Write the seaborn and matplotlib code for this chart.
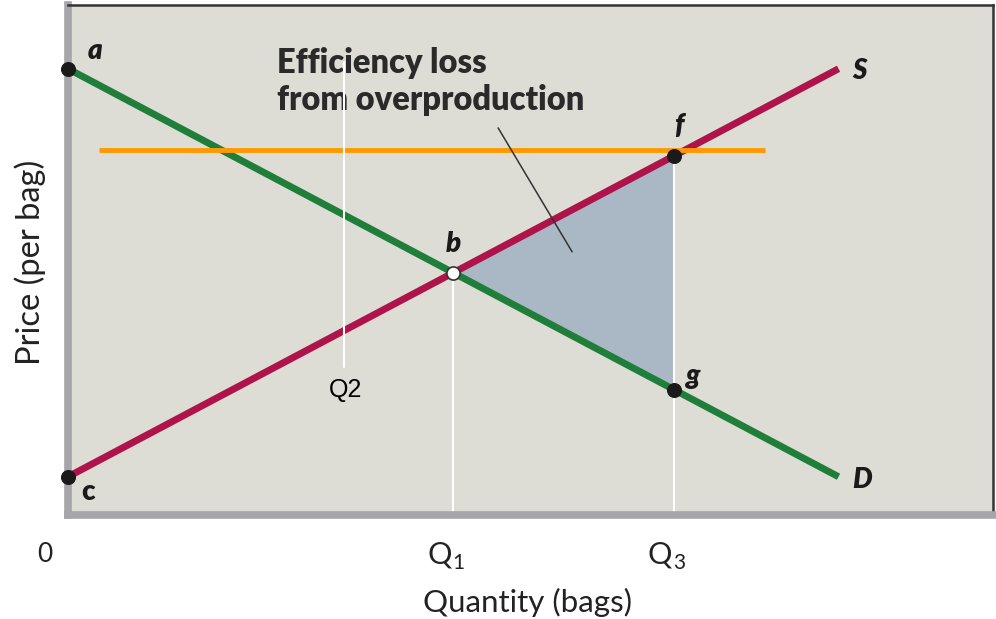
import numpy as np
import pandas as pd
import matplotlib
matplotlib.use("Agg")
import matplotlib.pyplot as plt
import seaborn as sns

# --- datos (unidades del gráfico: 0-100 en ambos ejes) ---
q_ends = [0.0, 83.3]
demand = [87.5, 7.5]
supply = [7.5, 87.5]
q1, p_b = 41.67, 47.5
q3, p_f, p_g = 65.5, 70.4, 24.6
q2 = 29.8
q2_span = [29.0, 88.8]
price_line = 71.6
price_span = [3.3, 75.4]
point_names = ["a", "b", "c", "f", "g"]
point_q = [0.0, q1, 0.0, q3, q3]
point_p = [87.5, p_b, 7.5, p_f, p_g]
tick_pos = [q1, q3]
tick_labels = ["Q", "Q"]
tick_subs = ["1", "3"]

BG = "#dddcd5"
GREEN = "#1f7f3a"
RED = "#ae1449"
ORANGE = "#ff9900"
SHADE = "#a9b8c4"

sns.set_theme(style="white")
plt.rcParams["font.family"] = ["Lato", "DejaVu Sans"]

fig = plt.figure(figsize=(9.96, 6.19), dpi=100)
ax = fig.add_axes([68 / 996, 1 - 515 / 619, (993 - 68) / 996, (515 - 5) / 619])
ax.set_facecolor(BG)

curves = pd.DataFrame({
    "q": q_ends + q_ends,
    "p": demand + supply,
    "curve": ["D", "D", "S", "S"],
})

# triángulo de pérdida de eficiencia
ax.fill([q1, q3, q3], [p_b, p_f, p_g], color=SHADE, zorder=1, lw=0)

# líneas guía blancas
ax.plot([q1, q1], [0, p_b], color="white", lw=1.5, zorder=2)
ax.plot([q3, q3], [0, p_f], color="white", lw=1.5, zorder=2)

sns.lineplot(data=curves, x="q", y="p", hue="curve", palette={"D": GREEN, "S": RED},
             lw=5, legend=False, ax=ax, zorder=3, solid_capstyle="butt")

ax.plot(price_span, [price_line, price_line], color=ORANGE, lw=3.5, zorder=4,
        solid_capstyle="butt")

pts = pd.DataFrame({"q": point_q, "p": point_p, "name": point_names})
sns.scatterplot(data=pts[pts["name"] != "b"], x="q", y="p", color="#1a1a1a", s=100,
                edgecolor="#1a1a1a", ax=ax, zorder=5, clip_on=False)
sns.scatterplot(data=pts[pts["name"] == "b"], x="q", y="p", color="white", s=90,
                edgecolor="#333333", linewidth=1.2, ax=ax, zorder=5)

# etiquetas de puntos
lab = dict(fontsize=20, fontweight="heavy", color="#1a1a1a", ha="center", va="center", zorder=6)
ax.text(2.9, 91.0, "a", style="italic", **lab)
ax.text(41.7, 53.2, "b", style="italic", **lab)
ax.text(2.2, 4.5, "c", **lab)
ax.text(66.0, 76.3, "f", style="italic", **lab)
ax.text(67.6, 27.2, "g", style="italic", **lab)
ax.text(85.6, 87.0, "S", style="italic", **lab)
ax.text(85.8, 6.9, "D", style="italic", **lab)

ax.text(22.6, 85.0, "Efficiency loss\nfrom overproduction", fontsize=23.5, fontweight="heavy",
        color="#2a2a2a", ha="left", va="center", linespacing=1.2, zorder=6)
ax.plot([46.5, 54.5], [75.9, 51.6], color="#333333", lw=1.1, zorder=6)

# línea Q2
ax.plot([q2, q2], q2_span, color="white", lw=1.5, zorder=7)
ax.text(30.0, 24.5, "Q2", fontsize=18, family="Liberation Sans", color="black",
        ha="center", va="center", zorder=7)

ax.set_xlim(0, 100)
ax.set_ylim(0, 100)
ax.set_xticks([])
ax.set_yticks([])
ax.set_xlabel("")
ax.set_ylabel("")

for side in ["left", "bottom"]:
    ax.spines[side].set_color("#a6a6aa")
    ax.spines[side].set_linewidth(5.5)
for side in ["top", "right"]:
    ax.spines[side].set_color("#333333")
    ax.spines[side].set_linewidth(1.8)
ax.spines["left"].set_zorder(0)

# etiquetas de eje
tick_y = -7.8
ax.text(-2.5, tick_y, "0", fontsize=19, color="#222222", ha="center", va="center", clip_on=False)
for x, t, sub in zip(tick_pos, tick_labels, tick_subs):
    ax.text(x - 1.5, tick_y, t, fontsize=22, color="#222222", ha="center", va="center", clip_on=False)
    ax.text(x - 0.1, tick_y - 1.7, sub, fontsize=15, color="#222222", ha="left", va="center",
            clip_on=False)

ax.text(49.7, -17.1, "Quantity (bags)", fontsize=22.5, color="#222222", ha="center", va="center",
        clip_on=False)
ax.text(-4.1, 49.6, "Price (per bag)", fontsize=23.5, color="#222222", ha="center", va="center",
        rotation=90, clip_on=False)

fig.savefig("out.png", dpi=100, facecolor="white")
